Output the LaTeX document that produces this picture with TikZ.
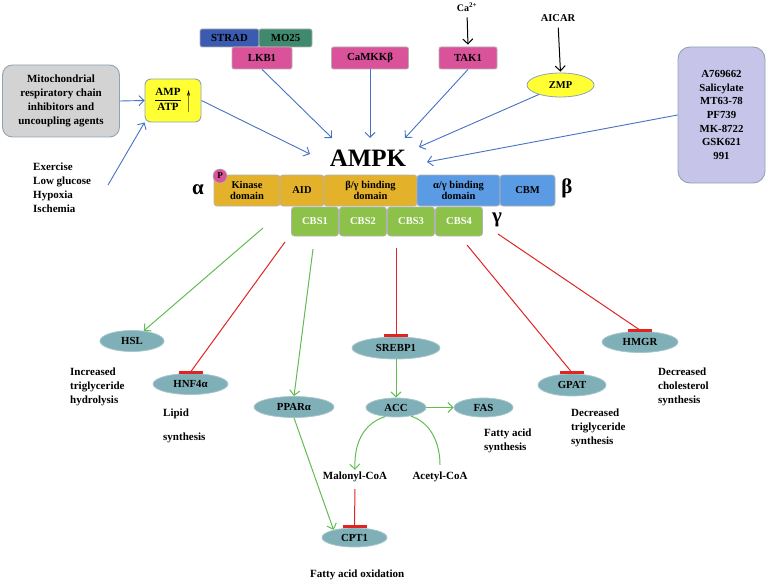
\documentclass[tikz,border=0pt]{standalone}
\usepackage{fontspec}
\setmainfont{Liberation Serif}
\usetikzlibrary{arrows.meta,shapes.geometric}
\definecolor{arrblue}{HTML}{4472C4}
\definecolor{arrgreen}{HTML}{62BC52}
\definecolor{inhred}{HTML}{E02424}
\definecolor{ellfill}{HTML}{7FAFB7}
\definecolor{ellline}{HTML}{A9C6CC}
\definecolor{gold}{HTML}{E4B22A}
\definecolor{domblue}{HTML}{5A9BE4}
\definecolor{cbsgreen}{HTML}{8DC24A}
\definecolor{kinpink}{HTML}{D9529A}
\definecolor{stradblue}{HTML}{3A5BB0}
\definecolor{moteal}{HTML}{3F8A6E}
\definecolor{ampyellow}{HTML}{FFFF33}
\definecolor{lavender}{HTML}{C7C4EA}
\definecolor{grayfill}{HTML}{D3D3D3}
\definecolor{boxline}{HTML}{8FA3B2}
\tikzset{
  blu/.style={draw=arrblue, line width=0.9pt, -{Straight Barb[length=5pt,width=10pt]}},
  blk/.style={draw=black, line width=1pt, -{Straight Barb[length=5pt,width=10pt]}},
  grn/.style={draw=arrgreen, line width=1pt, -{Straight Barb[length=5pt,width=10pt]}},
  grnline/.style={draw=arrgreen, line width=1pt},
  inh/.style={draw=inhred, line width=1pt},
  inhbar/.style={draw=inhred, line width=3.2pt},
  ell/.style={ellipse, fill=ellfill, draw=ellline, line width=0.8pt, inner sep=0pt, font=\bfseries\fontsize{10.8}{12}\selectfont},
  dom/.style={rectangle, rounded corners=3pt, draw=gray!60, line width=0.8pt, inner sep=0pt, align=center, font=\bfseries\fontsize{10.5}{11.5}\selectfont},
  kin/.style={rectangle, rounded corners=2pt, draw=gray!60, line width=0.8pt, inner sep=0pt, font=\bfseries\fontsize{10.8}{12}\selectfont},
  lbl/.style={inner sep=0pt, align=left, font=\bfseries\fontsize{11}{14}\selectfont},
  greek/.style={inner sep=0pt, font=\bfseries\fontsize{21}{21}\selectfont}
}
\begin{document}
\begin{tikzpicture}[x=1pt,y=-1pt, font=\bfseries\fontsize{11}{14}\selectfont]
\useasboundingbox (0,0) rectangle (767,580);

% ---- top inputs ----
\node[rectangle, rounded corners=10pt, fill=grayfill, draw=boxline, line width=0.9pt,
      minimum width=117pt, minimum height=72pt, inner sep=0pt, align=center]
      (mito) at (61,101) {Mitochondrial\\respiratory chain\\inhibitors and\\uncoupling agents};
\node[rectangle, rounded corners=6pt, fill=ampyellow, draw=boxline, line width=0.9pt,
      minimum width=56pt, minimum height=43pt, inner sep=0pt]
      (amp) at (173,100.5) {$\displaystyle\frac{\mbox{AMP}}{\mbox{ATP}}$\hspace{4pt}\raisebox{-9pt}{\mdseries\scalebox{1.1}[3.4]{↑}}};
\node[lbl, anchor=north west] (exer) at (33,163) {Exercise\\Low glucose\\Hypoxia\\Ischemia};
\coordinate (exs) at (108,185);

\node[kin, fill=stradblue, minimum width=59pt, minimum height=18pt] (strad) at (229.5,38) {STRAD};
\node[kin, fill=moteal, minimum width=53pt, minimum height=18pt] (mo25) at (285.5,38) {MO25};
\node[kin, fill=kinpink, minimum width=60pt, minimum height=22pt] (lkb1) at (262,58) {LKB1};
\node[kin, fill=kinpink, minimum width=77pt, minimum height=22pt] (camkk) at (370,58) {CaMKKβ};
\node[kin, fill=kinpink, minimum width=58pt, minimum height=22pt] (tak1) at (468,58) {TAK1};
\node[inner sep=1pt, font=\bfseries\fontsize{10}{12}\selectfont] (ca) at (467,7) {Ca\textsuperscript{2+}};
\node[inner sep=1pt, font=\bfseries\fontsize{10.5}{12}\selectfont] (aicar) at (558,18) {AICAR};
\node[ellipse, fill=ampyellow, draw=boxline, line width=0.8pt, minimum width=67pt, minimum height=24pt,
      inner sep=0pt, font=\bfseries\fontsize{10.5}{12}\selectfont] (zmp) at (560.5,85) {ZMP};
\node[rectangle, rounded corners=12pt, fill=lavender, draw=boxline, line width=0.9pt,
      minimum width=87pt, minimum height=136pt, inner sep=0pt, align=center,
      font=\bfseries\fontsize{10.8}{13.6}\selectfont]
      (rbox) at (721.5,115) {A769662\\Salicylate\\MT63-78\\PF739\\MK-8722\\GSK621\\991};

% ---- AMPK ----
\node[inner sep=0pt, font=\bfseries\fontsize{25}{25}\selectfont] (ampk) at (368,158) {AMPK};
\coordinate (t1) at (310,154);
\coordinate (t2) at (332,138);
\coordinate (t3) at (370,138);
\coordinate (t4) at (405,138);
\coordinate (t5) at (419,147);
\coordinate (t6) at (427,162);

\draw[blu] (mito.east) -- (amp.west);
\draw[blu] (exs) -- (amp.south west);
\draw[blu] (amp.east) -- (t1);
\draw[blu] (lkb1.south) -- (t2);
\draw[blu] (camkk.south) -- (t3);
\draw[blu] (tak1.south) -- (t4);
\draw[blu] (zmp) -- (t5);
\draw[blu] (rbox.west) -- (t6);
\draw[blk, shorten <=5pt, shorten >=2pt] (ca.south) -- (tak1.north);
\draw[blk, shorten <=5pt, shorten >=1pt] (aicar.south) -- (zmp.north);

% ---- domains ----
\node[dom, fill=gold, minimum width=66pt, minimum height=31pt] (kd) at (247,190.5) {Kinase\\domain};
\node[dom, fill=gold, minimum width=44pt, minimum height=31pt] (aid) at (302,190.5) {AID};
\node[dom, fill=gold, minimum width=93pt, minimum height=31pt] (bg) at (370.5,190.5) {β/γ binding\\domain};
\node[dom, fill=domblue, minimum width=83pt, minimum height=31pt] (ag) at (458.5,190.5) {α/γ binding\\domain};
\node[dom, fill=domblue, minimum width=55pt, minimum height=31pt] (cbm) at (527.5,190.5) {CBM};
\node[circle, fill=kinpink, draw=gray!60, line width=0.6pt, minimum size=14pt, inner sep=0pt,
      font=\bfseries\fontsize{9}{9}\selectfont] (p) at (220,176) {P};
\foreach \n/\x in {1/315,2/363,3/411,4/459}
  \node[dom, fill=cbsgreen, text=white, minimum width=47pt, minimum height=29pt] (cbs\n) at (\x,221.5) {CBS\n};
\node[greek] (alpha) at (198,190) {α};
\node[greek] (beta) at (567,188) {β};
\node[greek] (gamma) at (497,220) {γ};

% ---- downstream ----
\node[ell, minimum width=64pt, minimum height=21pt] (hsl) at (132,341) {HSL};
\node[ell, minimum width=75pt, minimum height=21pt] (hnf) at (190.5,384) {HNF4α};
\node[ell, minimum width=80pt, minimum height=21pt] (ppar) at (294,407) {PPARα};
\node[ell, minimum width=88pt, minimum height=22pt] (srebp) at (396,348) {SREBP1};
\node[ell, minimum width=60pt, minimum height=19pt] (acc) at (396,407.5) {ACC};
\node[ell, minimum width=59pt, minimum height=19pt] (fas) at (483.5,407.5) {FAS};
\node[ell, minimum width=68pt, minimum height=22pt] (gpat) at (572,385) {GPAT};
\node[ell, minimum width=76pt, minimum height=21pt] (hmgr) at (640,342) {HMGR};
\node[ell, minimum width=65pt, minimum height=19pt] (cpt) at (354.5,537.5) {CPT1};
\node[lbl, inner sep=2pt] (mal) at (355,477) {Malonyl-CoA};
\node[lbl, inner sep=2pt] (acet) at (440,477) {Acetyl-CoA};

\coordinate (s1) at (263,228);
\coordinate (s2) at (285,242);
\coordinate (s3) at (313,249);
\coordinate (s4) at (396,248);
\coordinate (s5) at (467,245);
\coordinate (s6) at (498,234);

\draw[grn] (s1) -- (hsl);
\draw[grn] (s3) -- (ppar.north);
\draw[grn] (srebp.south) -- (acc.north);
\draw[grn] (acc.east) -- (fas.west);
\draw[grn] (acc.-140) .. controls (362,424) and (354,445) .. (mal.north);
\draw[grnline, shorten >=5pt] (acc.-30) .. controls (432,423) and (440,445) .. (acet.north);
\draw[grn] (ppar.south) -- (cpt.160);

% inhibitions: line plus horizontal bar
\foreach \src/\dst in {s2/hnf, s4/srebp, s5/gpat, s6/hmgr}{
  \draw[inh] (\src) -- ([yshift=1pt]\dst.north);
  \draw[inhbar] ([xshift=-12pt,yshift=1pt]\dst.north) -- ([xshift=12pt,yshift=1pt]\dst.north);
}
\draw[inh, shorten <=5pt] (mal.south) -- ([yshift=1pt]cpt.north);
\draw[inhbar] ([xshift=-12pt,yshift=1pt]cpt.north) -- ([xshift=12pt,yshift=1pt]cpt.north);

% ---- annotations ----
\node[lbl, anchor=north west] (t_hsl) at (70,368) {Increased\\triglyceride\\hydrolysis};
\node[lbl, anchor=base west] (t_lip1) at (163,416) {Lipid};
\node[lbl, anchor=base west] (t_lip2) at (163,440) {synthesis};
\node[lbl, anchor=north west] (t_fas) at (484,429) {Fatty acid\\synthesis};
\node[lbl, anchor=north west] (t_gpat) at (571,409) {Decreased\\triglyceride\\synthesis};
\node[lbl, anchor=north west] (t_hmgr) at (658,368) {Decreased\\cholesterol\\synthesis};
\node[lbl, anchor=base west] (t_ox) at (310,577) {Fatty acid oxidation};
\end{tikzpicture}
\end{document}
